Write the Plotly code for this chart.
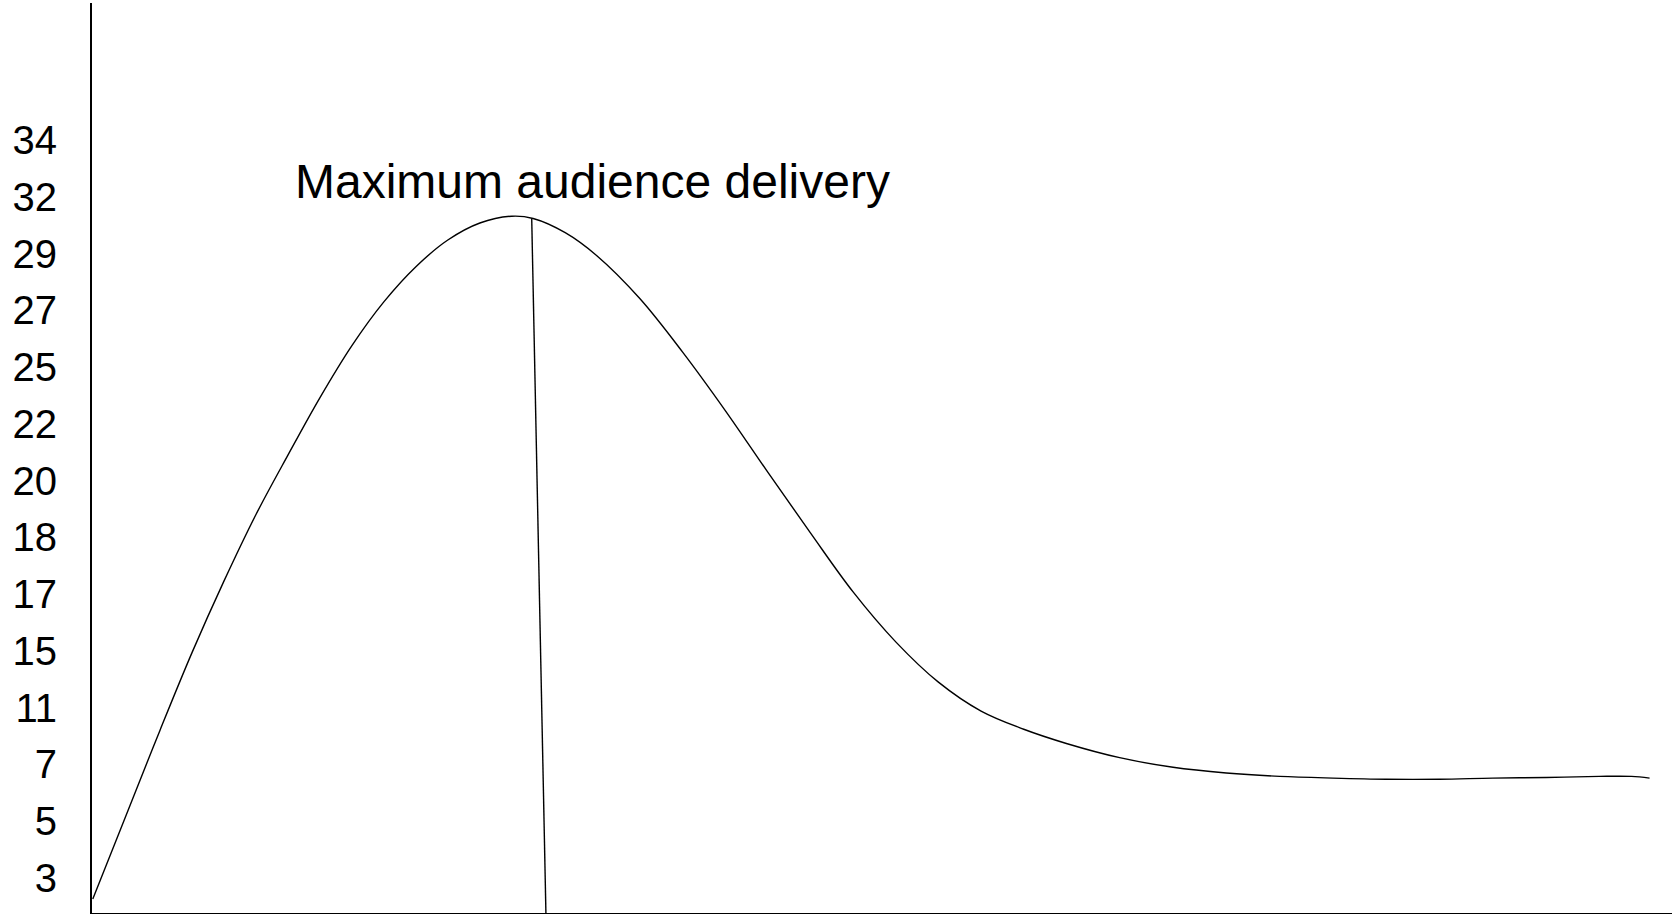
import plotly.graph_objects as go

# Y-axis tick labels (evenly spaced on the axis)
tick_labels = ["3", "5", "7", "11", "15", "17", "18", "20", "22", "25", "27", "29", "32", "34"]
tick_positions = list(range(len(tick_labels)))

# Audience delivery curve (x: time 0-100, y: in tick-index units)
curve_x = [0.05, 2.28, 4.30, 6.33, 8.35, 10.37, 12.40, 14.42, 16.45, 18.47, 20.50, 22.52,
           24.55, 26.57, 27.92, 29.95, 31.97, 34.67, 37.37, 40.07, 42.77, 45.47, 48.17,
           50.87, 53.57, 56.27, 58.97, 61.67, 65.04, 68.42, 71.79, 75.17, 78.54, 81.92,
           85.29, 88.66, 92.04, 95.41, 97.44, 98.58]
curve_y = [-0.37, 1.19, 2.60, 3.97, 5.23, 6.40, 7.45, 8.46, 9.38, 10.15, 10.77, 11.24,
           11.54, 11.66, 11.62, 11.37, 10.96, 10.21, 9.27, 8.24, 7.15, 6.08, 5.04,
           4.16, 3.45, 2.94, 2.62, 2.37, 2.12, 1.95, 1.85, 1.79, 1.76, 1.74,
           1.74, 1.76, 1.77, 1.79, 1.79, 1.76]

# Marker line from the peak down to the x axis
peak_line_x = [27.83, 28.73]
peak_line_y = [11.62, -0.62]

annotation_text = "Maximum audience delivery"

fig = go.Figure()
fig.add_trace(go.Scatter(x=curve_x, y=curve_y, mode="lines",
                         line=dict(color="black", width=1.4, shape="spline", smoothing=1.0),
                         hoverinfo="skip", showlegend=False))
fig.add_trace(go.Scatter(x=peak_line_x, y=peak_line_y, mode="lines",
                         line=dict(color="black", width=1.4),
                         hoverinfo="skip", showlegend=False))

fig.add_annotation(x=12.72, y=12.27, xref="x", yref="y", text=annotation_text,
                   showarrow=False, xanchor="left", yanchor="middle",
                   font=dict(family="Liberation Sans, Arial", size=48, color="black"))

fig.update_xaxes(range=[0, 100], showline=True, linecolor="black", linewidth=2,
                 showticklabels=False, ticks="", showgrid=False, zeroline=False)
fig.update_yaxes(range=[-0.617, 15.416], showline=True, linecolor="black", linewidth=2,
                 tickvals=tick_positions, ticktext=tick_labels, ticks="",
                 ticklabelstandoff=25,
                 tickfont=dict(family="Liberation Sans, Arial", size=40, color="black"),
                 showgrid=False, zeroline=False)

fig.update_layout(width=1672, height=914, autosize=False,
                  margin=dict(l=92, r=0, t=3, b=1, pad=0),
                  paper_bgcolor="white", plot_bgcolor="white")

fig.write_html("out.html", config={"displayModeBar": False},
               post_script="document.body.style.margin='0';document.body.style.overflow='hidden';")
